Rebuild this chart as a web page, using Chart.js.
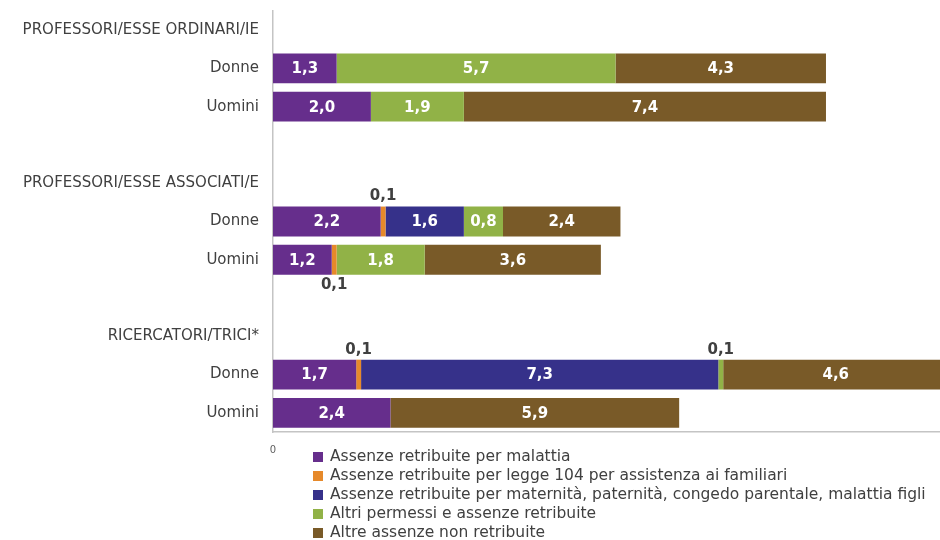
<!DOCTYPE html>
<html>
<head>
<meta charset="utf-8">
<script src="https://cdn.jsdelivr.net/npm/chart.js@4"></script>
<style>
  body { margin: 0; background: #fff; }
  #wrap { position: relative; width: 940px; height: 540px; overflow: hidden; }
  #chart { position: absolute; left: 0; top: -12px; }
  #legend { position: absolute; left: 313px; top: 447px; font-family: "DejaVu Sans", sans-serif; font-size: 15.5px; color: #404040; }
  #legend div { height: 19px; line-height: 19px; white-space: nowrap; }
  #legend span { display: inline-block; width: 10px; height: 10px; margin-right: 7px; vertical-align: -1px; }
</style>
</head>
<body>
<div id="wrap">
  <canvas id="chart" width="944" height="552"></canvas>
  <div id="legend"></div>
</div>
<script>
const rowLabels = ['PROFESSORI/ESSE ORDINARI/IE', 'Donne', 'Uomini', '',
  'PROFESSORI/ESSE ASSOCIATI/E', 'Donne', 'Uomini', '',
  'RICERCATORI/TRICI*', 'Donne', 'Uomini'];

const seriesNames = [
  'Assenze retribuite per malattia',
  'Assenze retribuite per legge 104 per assistenza ai familiari',
  'Assenze retribuite per maternità, paternità, congedo parentale, malattia figli',
  'Altri permessi e assenze retribuite',
  'Altre assenze non retribuite'
];
const seriesColors = ['#662e8c', '#e6892a', '#36318a', '#91b247', '#795a28'];

// one value per row (null on heading / spacer rows)
const malattia   = [null, 1.3, 2.0, null, null, 2.2, 1.2, null, null, 1.7, 2.4];
const legge104   = [null, 0,   0,   null, null, 0.1, 0.1, null, null, 0.1, 0];
const maternita  = [null, 0,   0,   null, null, 1.6, 0,   null, null, 7.3, 0];
const altriPerm  = [null, 5.7, 1.9, null, null, 0.8, 1.8, null, null, 0.1, 0];
const nonRetrib  = [null, 4.3, 7.4, null, null, 2.4, 3.6, null, null, 4.6, 5.9];

const seriesValues = [malattia, legge104, maternita, altriPerm, nonRetrib];

// labels on bars: white inside, dark outside for tiny segments
const barLabels = {
  id: 'barLabels',
  afterDatasetsDraw(chart) {
    const ctx = chart.ctx;
    ctx.save();
    ctx.font = 'bold 15px "DejaVu Sans", sans-serif';
    ctx.textAlign = 'center';
    ctx.textBaseline = 'middle';
    chart.data.datasets.forEach((ds, i) => {
      const meta = chart.getDatasetMeta(i);
      meta.data.forEach((el, j) => {
        const v = ds.data[j];
        if (!v) return;
        const txt = v.toFixed(1).replace('.', ',');
        const cx = (el.x + el.base) / 2;
        if (v >= 0.5) {
          ctx.fillStyle = '#ffffff';
          ctx.fillText(txt, cx, el.y + 1);
        } else {
          ctx.fillStyle = '#404040';
          const below = chart.data.labels[j] === 'Uomini';
          ctx.fillText(txt, cx, below ? el.y + el.height / 2 + 10 : el.y - el.height / 2 - 10);
        }
      });
    });
    ctx.restore();
  }
};

const chart = new Chart(document.getElementById('chart'), {
  type: 'bar',
  data: {
    labels: rowLabels,
    datasets: seriesNames.map((name, i) => ({
      label: name,
      data: seriesValues[i],
      backgroundColor: seriesColors[i],
      borderWidth: 0,
      barPercentage: 0.78,
      categoryPercentage: 1
    }))
  },
  options: {
    indexAxis: 'y',
    responsive: false,
    animation: false,
    layout: { padding: 0 },
    plugins: {
      legend: { display: false },
      tooltip: { enabled: false }
    },
    scales: {
      x: {
        stacked: true,
        min: 0,
        max: 13.63,
        grid: { display: false },
        border: { color: '#c4c4c4', width: 1.5 },
        ticks: {
          stepSize: 1,
          padding: 4,
          color: '#606060',
          font: { family: '"DejaVu Sans", sans-serif', size: 10 },
          maxRotation: 0,
          callback: v => v === 0 ? '0' : ''
        },
        afterFit: s => { s.height = 108; }
      },
      y: {
        stacked: true,
        grid: { display: false, drawTicks: false },
        border: { color: '#c4c4c4', width: 1.5 },
        ticks: {
          padding: 14,
          color: '#404040',
          font: { family: '"DejaVu Sans", sans-serif', size: 15 },
          autoSkip: false
        },
        afterFit: s => { s.width = 273; }
      }
    }
  },
  plugins: [barLabels]
});

// legend as one left-aligned column
document.getElementById('legend').innerHTML = chart.data.datasets
  .map(ds => `<div><span style="background:${ds.backgroundColor}"></span>${ds.label}</div>`)
  .join('');
</script>
</body>
</html>
